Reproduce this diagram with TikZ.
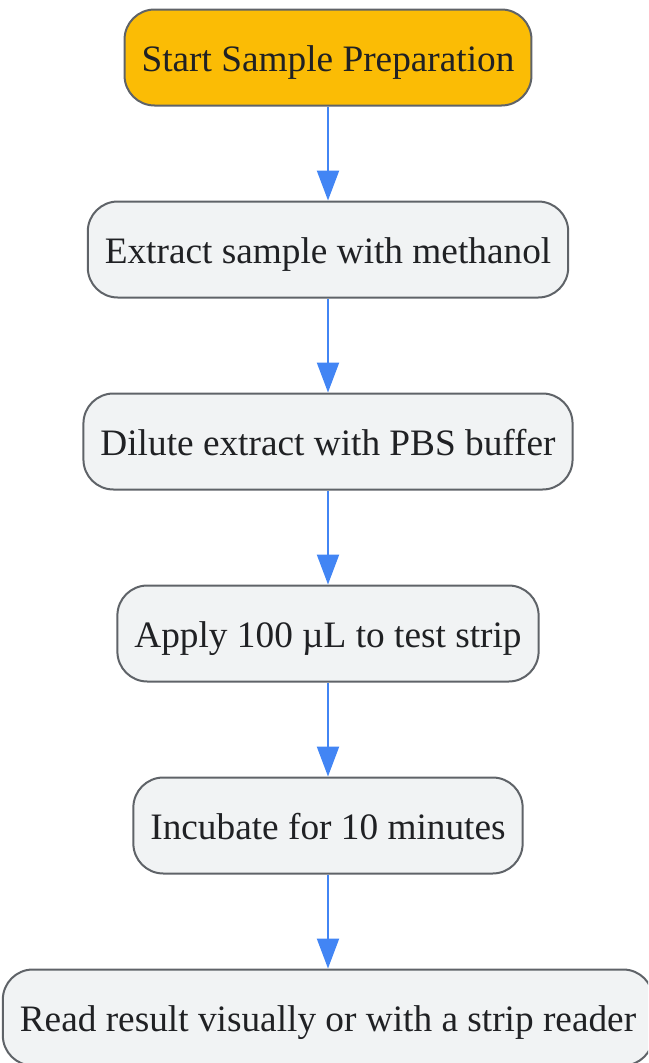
\documentclass[tikz,border=0pt]{standalone}
\usepackage{fontspec}
\setmainfont{Liberation Serif}
\usetikzlibrary{arrows.meta}
\definecolor{startfill}{HTML}{FBBC05}
\definecolor{boxfill}{HTML}{F1F3F4}
\definecolor{boxdraw}{HTML}{5F6368}
\definecolor{txt}{HTML}{202124}
\definecolor{arrowblue}{HTML}{4285F4}
\tikzset{
  stepbox/.style={draw=boxdraw, line width=2pt, fill=boxfill, rounded corners=30pt,
    minimum height=96pt, inner xsep=17pt, inner ysep=0pt, text=txt,
    text height=28.5pt, text depth=0pt,
    font=\fontsize{37.3}{44}\selectfont},
  startbox/.style={stepbox, fill=startfill},
  flow/.style={draw=arrowblue, line width=2.2pt, -{Triangle[length=30pt,width=22pt]}}
}
\begin{document}
\begin{tikzpicture}[x=1pt,y=1pt]
\clip (0,0) rectangle (648,-1063);
\node[startbox] (n1) at (328,-57.5) {Start Sample Preparation};
\node[stepbox] (n2) at (328,-249.5) {Extract sample with methanol};
\node[stepbox] (n3) at (328,-441.5) {Dilute extract with PBS buffer};
\node[stepbox] (n4) at (328,-633.5) {Apply 100 µL to test strip};
\node[stepbox] (n5) at (328,-825.5) {Incubate for 10 minutes};
\node[stepbox] (n6) at (328,-1017.5) {Read result visually or with a strip reader};
\draw[flow] (n1) -- (n2);
\draw[flow] (n2) -- (n3);
\draw[flow] (n3) -- (n4);
\draw[flow] (n4) -- (n5);
\draw[flow] (n5) -- (n6);
\end{tikzpicture}
\end{document}
